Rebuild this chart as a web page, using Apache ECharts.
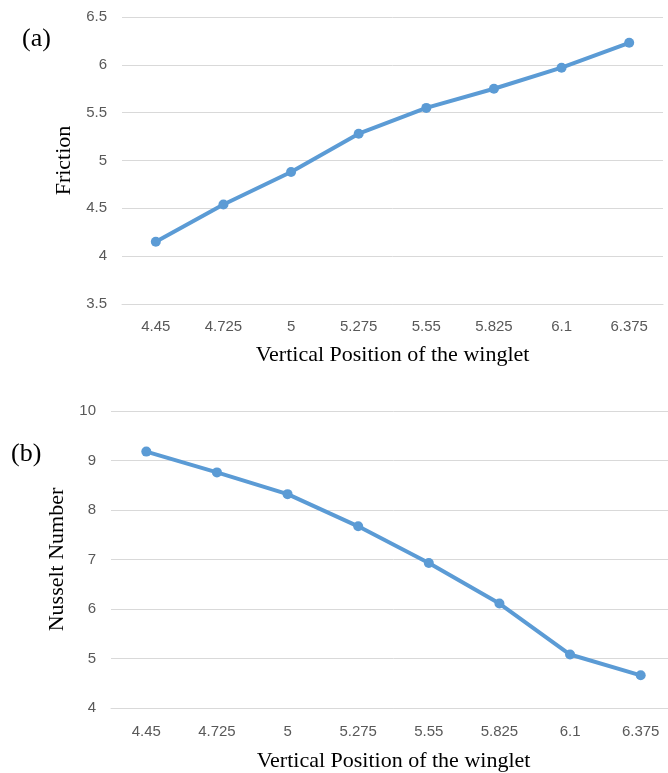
<!DOCTYPE html>
<html>
<head>
<meta charset="utf-8">
<script src="https://cdn.jsdelivr.net/npm/echarts@6/dist/echarts.min.js"></script>
<style>
html,body{margin:0;padding:0;background:#fff;overflow:hidden;width:668px;height:773px;}
#chart{width:700px;height:773px;}
</style>
</head>
<body>
<div id="chart"></div>
<script>
var categories = ['4.45','4.725','5','5.275','5.55','5.825','6.1','6.375'];
var frictionValues = [4.15, 4.54, 4.88, 5.28, 5.55, 5.75, 5.97, 6.23];
var nusseltValues = [9.18, 8.76, 8.32, 7.67, 6.93, 6.11, 5.08, 4.66];
var xTitle = 'Vertical Position of the winglet';
var yTitleTop = 'Friction';
var yTitleBottom = 'Nusselt Number';

var lineColor = '#5b9bd5';
var gridColor = '#d9d9d9';
var tickFont = {color:'#595959', fontSize:15, fontFamily:'Liberation Sans, Arial, sans-serif'};
var titleFont = {color:'#000', fontSize:22, fontFamily:'Liberation Serif, Times New Roman, serif'};

var chart = echarts.init(document.getElementById('chart'));
function xAxis(idx, margin, gap){
  return {
    type:'category', gridIndex:idx, data:categories, boundaryGap:true,
    axisLine:{show:true, lineStyle:{color:gridColor, width:1}},
    axisTick:{show:false},
    axisLabel:Object.assign({margin:margin}, tickFont),
    name:xTitle, nameLocation:'middle', nameGap:gap,
    nameTextStyle:titleFont
  };
}
function yAxis(idx, min, max, interval, gap){
  return {
    type:'value', gridIndex:idx, min:min, max:max, interval:interval,
    axisLine:{show:false}, axisTick:{show:false},
    splitLine:{show:true, lineStyle:{color:gridColor, width:1}},
    axisLabel:Object.assign({margin:15}, tickFont),
    name:idx===0?yTitleTop:yTitleBottom, nameLocation:'middle', nameGap:gap,
    nameTextStyle:titleFont
  };
}
chart.setOption({
  animation:false,
  backgroundColor:'#fff',
  grid:[
    {left:122, top:17, width:541, height:287},
    {left:111, top:411, width:565, height:300}
  ],
  xAxis:[xAxis(0, 15, 40), xAxis(1, 16, 42)],
  yAxis:[yAxis(0, 3.5, 6.5, 0.5, 44), yAxis(1, 4, 10, 1, 42)],
  graphic:[
    {type:'text', left:22, top:26, style:{text:'(a)', font:'26px "Liberation Serif", serif', fill:'#000'}},
    {type:'text', left:11, top:441, style:{text:'(b)', font:'26px "Liberation Serif", serif', fill:'#000'}}
  ],
  series:[
    {type:'line', xAxisIndex:0, yAxisIndex:0, data:frictionValues, symbol:'circle', symbolSize:10,
     lineStyle:{color:lineColor, width:4}, itemStyle:{color:lineColor}},
    {type:'line', xAxisIndex:1, yAxisIndex:1, data:nusseltValues, symbol:'circle', symbolSize:10,
     lineStyle:{color:lineColor, width:4}, itemStyle:{color:lineColor}}
  ]
});
</script>
</body>
</html>
